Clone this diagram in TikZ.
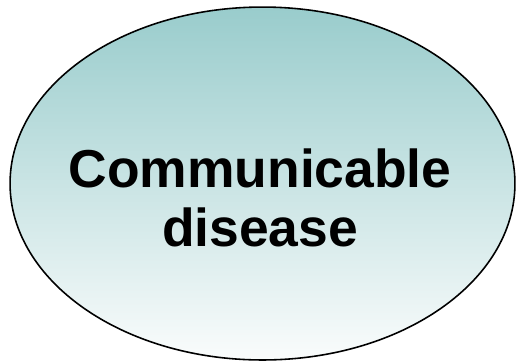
\documentclass[tikz,border=0pt]{standalone}
\usepackage{fontspec}
\setmainfont{Liberation Sans}
\usetikzlibrary{shapes.geometric}
\definecolor{cteal}{HTML}{99CCCC}
\definecolor{cpale}{HTML}{FAFCFC}
\tikzset{
  every picture/.style={font=\rmfamily, line width=0.9pt},
  blob/.style={ellipse, draw=black, top color=cteal, bottom color=cpale, minimum width=10.1cm, minimum height=7.06cm, inner sep=0pt},
  label/.style={font=\fontsize{30.4}{34}\selectfont\bfseries, align=center, text=black},
}
\begin{document}
\begin{tikzpicture}[x=0.02cm, y=-0.02cm]
  \useasboundingbox (0,0) rectangle (517,363);
  % ellipse
  \node[blob] (cd) at (262.5,183.5) {};
  \node[label] (txt) at (260,198) {Communicable\\disease};
\end{tikzpicture}
\end{document}
